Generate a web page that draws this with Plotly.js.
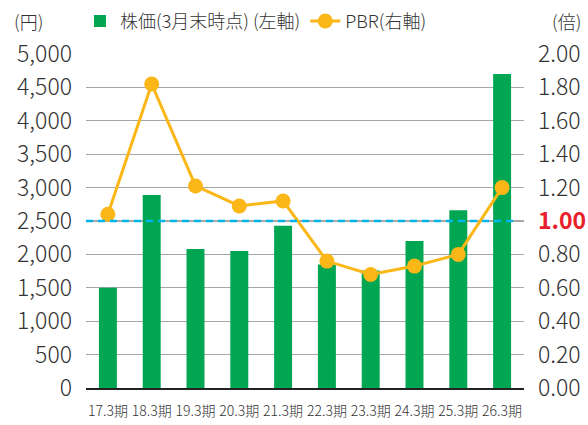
<!DOCTYPE html>
<html><head><meta charset="utf-8">
<script src="https://cdn.plot.ly/plotly-3.0.1.min.js"></script>
<style>html,body{margin:0;padding:0;background:#fff}#c{width:588px;height:425px}</style>
</head><body><div id="c"></div>
<script>
var categories = ["17.3期","18.3期","19.3期","20.3期","21.3期","22.3期","23.3期","24.3期","25.3期","26.3期"];
var stockPrice = [1500, 2890, 2080, 2050, 2430, 1850, 1760, 2200, 2660, 4700];
var pbr = [1.04, 1.82, 1.21, 1.09, 1.12, 0.76, 0.68, 0.73, 0.80, 1.20];
var leftTicks = [0,500,1000,1500,2000,2500,3000,3500,4000,4500,5000];
var leftTickText = ["0","500","1,000","1,500","2,000","2,500","3,000","3,500","4,000","4,500","5,000"];
var rightTicks = [0,0.2,0.4,0.6,0.8,1.0,1.2,1.4,1.6,1.8,2.0];
var rightTickText = ["0.00","0.20","0.40","0.60","0.80","<b><span style='color:#E8212B'>1.00</span></b>","1.20","1.40","1.60","1.80","2.00"];
var pbrThreshold = 1.0;

var FONT = "'Noto Sans CJK JP', 'Noto Sans', sans-serif";
var data = [
  {type:"bar", x:categories, y:stockPrice, name:"株価(3月末時点) (左軸)",
   marker:{color:"#00A651"}, width:0.41, yaxis:"y"},
  {type:"scatter", mode:"lines+markers", x:categories, y:pbr, name:"PBR(右軸)",
   line:{color:"#FBB617", width:3}, marker:{color:"#FBB617", size:15}, yaxis:"y2"}
];
var layout = {
  width:588, height:425,
  margin:{l:86, r:64, t:54, b:37, autoexpand:false},
  paper_bgcolor:"#fff", plot_bgcolor:"#fff",
  font:{family:FONT, color:"#333", size:14},
  showlegend:true,
  legend:{orientation:"h", xref:"container", yref:"container", x:0.136, y:0.95, xanchor:"left", yanchor:"middle",
          font:{size:18, color:"#333", weight:300}, bgcolor:"rgba(0,0,0,0)", itemwidth:30, traceorder:"normal"},
  xaxis:{type:"category", range:[-0.5,9.5], showgrid:false, showline:true, linecolor:"#222", linewidth:1.5,
         ticks:"", tickfont:{size:14, color:"#333", weight:300}, ticklabelstandoff:10, fixedrange:true},
  yaxis:{range:[0,5000], tickvals:leftTicks, ticktext:leftTickText, showgrid:true, gridcolor:"#A6A6A6", gridwidth:1.3,
         zeroline:false, tickfont:{size:23, color:"#333", weight:300}, ticks:"", ticklabelstandoff:13},
  yaxis2:{range:[0,2], overlaying:"y", side:"right", tickvals:rightTicks, ticktext:rightTickText, showgrid:false,
          zeroline:false, tickfont:{size:23, color:"#333", weight:300}, ticks:"", ticklabelstandoff:13},
  shapes:[{type:"line", xref:"paper", x0:0, x1:0.984, yref:"y2", y0:pbrThreshold, y1:pbrThreshold,
           line:{color:"#00B4EF", width:2.5, dash:"7px,5px"}, layer:"above"}],
  annotations:[
    {text:"(円)", xref:"paper", yref:"paper", x:-0.168, y:1.099, xanchor:"left", yanchor:"middle", showarrow:false, font:{size:18, color:"#333", weight:300}},
    {text:"(倍)", xref:"paper", yref:"paper", x:1.134, y:1.099, xanchor:"right", yanchor:"middle", showarrow:false, font:{size:18, color:"#333", weight:300}}
  ]
};
Plotly.newPlot("c", data, layout, {displayModeBar:false, staticPlot:true});
</script></body></html>
